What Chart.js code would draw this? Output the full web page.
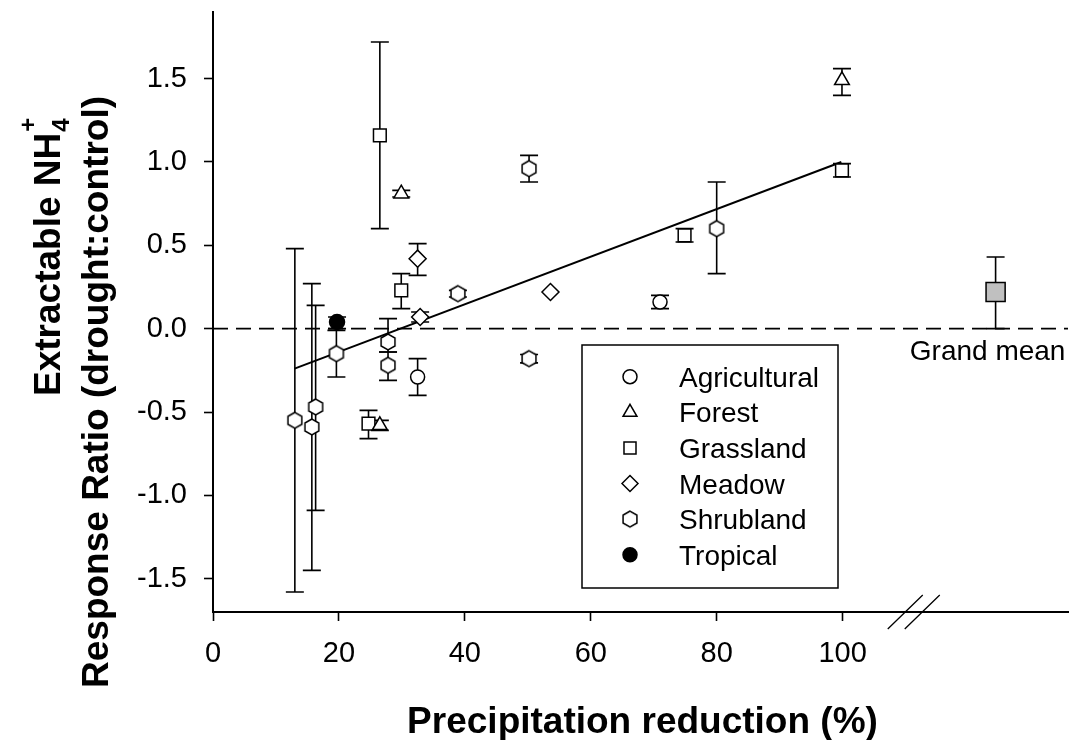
<!DOCTYPE html>
<html>
<head>
<meta charset="utf-8">
<script src="https://cdn.jsdelivr.net/npm/chart.js@4.4.0/dist/chart.umd.min.js"></script>
<style>
  html, body { margin: 0; padding: 0; background: #fff; }
  #wrap { width: 1072px; height: 740px; }
</style>
</head>
<body>
<div id="wrap"><canvas id="graph" width="1072" height="740"></canvas></div>
<script>
// each point: [precip. reduction %, response ratio, lower bar, upper bar]
const agricultural = [[32.5, -0.29, -0.40, -0.18], [71.0, 0.16, 0.12, 0.20]];
const forest = [[29.9, 0.81, 0.79, 0.83], [26.5, -0.58, -0.61, -0.55], [99.9, 1.49, 1.40, 1.56]];
const grassland = [[26.5, 1.16, 0.60, 1.72], [29.9, 0.23, 0.12, 0.33], [24.7, -0.57, -0.66, -0.49],
  [74.9, 0.56, 0.52, 0.60], [99.9, 0.95, 0.91, 0.99]];
const meadow = [[32.5, 0.42, 0.32, 0.51], [32.9, 0.07, 0.04, 0.10], [53.6, 0.22, 0.22, 0.22]];
const shrubland = [[13.0, -0.55, -1.58, 0.48], [15.7, -0.59, -1.45, 0.27], [16.3, -0.47, -1.09, 0.14],
  [19.6, -0.15, -0.29, -0.01], [27.8, -0.08, -0.14, 0.06], [27.8, -0.22, -0.31, -0.14],
  [38.9, 0.21, 0.19, 0.23], [50.2, 0.96, 0.88, 1.04], [50.2, -0.18, -0.205, -0.155], [80.0, 0.60, 0.33, 0.88]];
const tropical = [[19.7, 0.04, 0.0, 0.07]];
const grandMean = [[124.3, 0.22, 0.0, 0.43]];
const fitLine = [[12.95, -0.24], [99.8, 1.0]];

const xTicks = [0, 20, 40, 60, 80, 100];
const yTicks = [-1.5, -1.0, -0.5, 0.0, 0.5, 1.0, 1.5];
const xMax = 135.8;
const breakAt = 111.3;

const FONT = "'Liberation Sans', Arial, sans-serif";

function hexagon(r, lw) {
  const c = document.createElement("canvas");
  const s = Math.ceil(2 * r + lw + 2);
  c.width = s;
  c.height = s;
  const g = c.getContext("2d");
  g.beginPath();
  for (let i = 0; i < 6; i++) {
    const a = Math.PI / 2 + (i * Math.PI) / 3;
    const px = s / 2 + r * Math.cos(a);
    const py = s / 2 - r * Math.sin(a);
    i ? g.lineTo(px, py) : g.moveTo(px, py);
  }
  g.closePath();
  g.fillStyle = "#fff";
  g.fill();
  g.lineWidth = lw;
  g.strokeStyle = "#000";
  g.stroke();
  return c;
}

const hexMark = hexagon(8, 1.5);

const series = (label, pts, style, radius, fill) => ({
  label: label,
  data: pts.map((p) => ({ x: p[0], y: p[1] })),
  bars: pts,
  pointStyle: style,
  pointRadius: radius,
  pointHoverRadius: radius,
  pointBackgroundColor: fill,
  pointBorderColor: "#000",
  pointBorderWidth: 1.5,
  showLine: false,
  order: 1,
});

const datasets = [
  series("Agricultural", agricultural, "circle", 7, "#fff"),
  series("Forest", forest, "triangle", 8.5, "#fff"),
  series("Grassland", grassland, "rect", 9, "#fff"),
  series("Meadow", meadow, "rectRot", 8.5, "#fff"),
  series("Shrubland", shrubland, hexMark, 8, "#fff"),
  series("Tropical", tropical, "circle", 7.5, "#000"),
  series("Grand mean", grandMean, "rect", 13.5, "#c0c0c0"),
  {
    label: "zero",
    data: [{ x: 0, y: 0 }, { x: xMax, y: 0 }],
    showLine: true,
    borderColor: "#000",
    borderWidth: 1.6,
    borderDash: [15, 8],
    pointRadius: 0,
    order: 5,
  },
  {
    label: "fit",
    data: fitLine.map((p) => ({ x: p[0], y: p[1] })),
    showLine: true,
    borderColor: "#000",
    borderWidth: 2,
    pointRadius: 0,
    order: 4,
  },
];

const errorBars = {
  id: "errorBars",
  beforeDatasetsDraw(chart) {
    const { ctx, scales: { x, y } } = chart;
    ctx.save();
    ctx.strokeStyle = "#000";
    ctx.lineWidth = 1.6;
    chart.data.datasets.forEach((ds) => {
      if (!ds.bars) return;
      ds.bars.forEach((p) => {
        const px = x.getPixelForValue(p[0]);
        const lo = y.getPixelForValue(p[2]);
        const hi = y.getPixelForValue(p[3]);
        if (Math.abs(lo - hi) < 1) return;
        ctx.beginPath();
        ctx.moveTo(px, lo);
        ctx.lineTo(px, hi);
        ctx.moveTo(px - 9, lo);
        ctx.lineTo(px + 9, lo);
        ctx.moveTo(px - 9, hi);
        ctx.lineTo(px + 9, hi);
        ctx.stroke();
      });
    });
    ctx.restore();
  },
};

const decorations = {
  id: "decorations",
  afterDraw(chart) {
    const { ctx, chartArea, scales: { x, y } } = chart;
    ctx.save();
    ctx.fillStyle = "#000";
    ctx.strokeStyle = "#000";

    // axis break
    const bx = x.getPixelForValue(breakAt);
    const by = chartArea.bottom;
    ctx.lineWidth = 1.3;
    ctx.beginPath();
    ctx.moveTo(bx - 26, by + 17);
    ctx.lineTo(bx + 9, by - 17);
    ctx.moveTo(bx - 9, by + 17);
    ctx.lineTo(bx + 26, by - 17);
    ctx.stroke();

    // grand mean label
    ctx.font = "28px " + FONT;
    ctx.textAlign = "center";
    ctx.textBaseline = "alphabetic";
    ctx.fillText("Grand mean", x.getPixelForValue(grandMean[0][0]) - 8, y.getPixelForValue(0) + 31);

    // x title
    ctx.font = "bold 37px " + FONT;
    ctx.fillText("Precipitation reduction (%)", (chartArea.left + chartArea.right) / 2 + 2, 733);

    // y titles
    ctx.textAlign = "left";
    const line2 = "Response Ratio (drought:control)";
    const w2 = ctx.measureText(line2).width;
    ctx.save();
    ctx.translate(108, 392 + w2 / 2);
    ctx.rotate(-Math.PI / 2);
    ctx.fillText(line2, 0, 0);
    ctx.restore();

    ctx.save();
    ctx.translate(60, 396);
    ctx.rotate(-Math.PI / 2);
    const line1 = "Extractable NH";
    ctx.fillText(line1, 0, 0);
    const w1 = ctx.measureText(line1).width;
    ctx.font = "bold 24px " + FONT;
    ctx.fillText("4", w1 + 1, 9);
    ctx.fillText("+", w1 + 1, -24);
    ctx.restore();

    // legend
    const lx = 582, ly = 345, lw = 256, lh = 243;
    ctx.lineWidth = 1.5;
    ctx.strokeRect(lx, ly, lw, lh);
    ctx.font = "28px " + FONT;
    ctx.textAlign = "left";
    for (let i = 0; i < 6; i++) {
      const ds = chart.data.datasets[i];
      const ry = 376.7 + i * 35.6;
      ctx.fillStyle = ds.pointBackgroundColor;
      ctx.strokeStyle = "#000";
      ctx.lineWidth = 1.5;
      const r = ds.pointStyle === "circle" ? 7 : ds.pointRadius - 0.5;
      Chart.helpers.drawPoint(ctx, { pointStyle: ds.pointStyle, radius: r, borderWidth: 1.5, rotation: 0 }, 630, ry);
      ctx.fillStyle = "#000";
      ctx.fillText(ds.label, 679, ry + 10);
    }
    ctx.restore();
  },
};

new Chart(document.getElementById("graph"), {
  type: "scatter",
  data: { datasets: datasets },
  plugins: [errorBars, decorations],
  options: {
    responsive: false,
    animation: false,
    layout: { autoPadding: false, padding: { top: 12, right: 4, left: 0, bottom: 0 } },
    plugins: { legend: { display: false }, tooltip: { enabled: false } },
    scales: {
      x: {
        type: "linear",
        min: 0,
        max: xMax,
        afterFit: (s) => {
          s.height = 128;
          s.paddingLeft = 0;
          s.paddingRight = 0;
        },
        afterBuildTicks: (s) => { s.ticks = xTicks.map((v) => ({ value: v })); },
        border: { display: true, color: "#000", width: 2 },
        grid: { drawOnChartArea: false, tickLength: 9, tickColor: "#000", tickWidth: 1.6 },
        ticks: { color: "#000", padding: 16, maxRotation: 0, font: { family: FONT, size: 29 } },
      },
      y: {
        type: "linear",
        min: -1.7,
        max: 1.9,
        afterFit: (s) => {
          s.width = 213;
          s.paddingTop = 0;
          s.paddingBottom = 0;
        },
        afterBuildTicks: (s) => { s.ticks = yTicks.map((v) => ({ value: v })); },
        border: { display: true, color: "#000", width: 2 },
        grid: { drawOnChartArea: false, tickLength: 9, tickColor: "#000", tickWidth: 1.6 },
        ticks: {
          color: "#000",
          padding: 17,
          font: { family: FONT, size: 29 },
          callback: (v) => (Math.abs(v) < 1e-9 ? "0.0" : v.toFixed(1)),
        },
      },
    },
  },
});
</script>
</body>
</html>
